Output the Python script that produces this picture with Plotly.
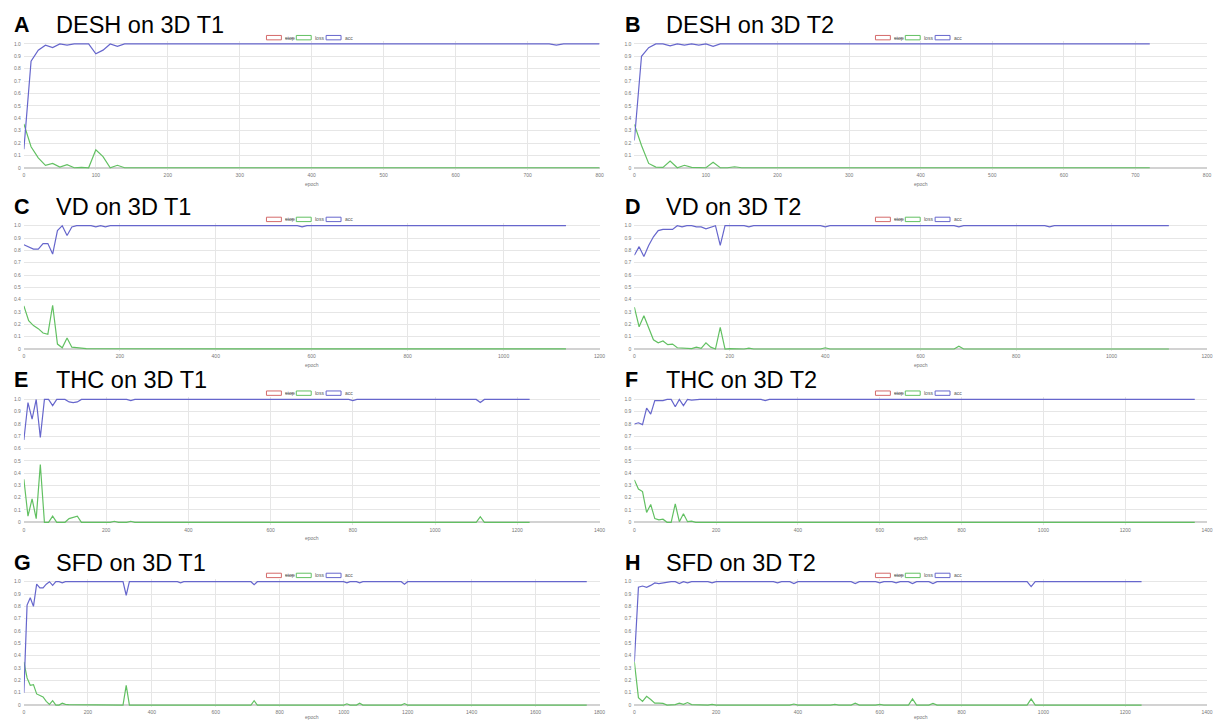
import plotly.graph_objects as go

W, H = 1220, 722

# ---------------- data ----------------
# A: DESH on 3D T1
a_epoch = [0, 10, 20, 30, 40, 50, 60, 70, 80, 90, 100, 110, 120, 130, 140, 150,
           170, 180, 190, 220, 230, 240, 730, 740, 750, 800]
a_acc = [0.15, 0.86, 0.95, 0.99, 0.97, 1.0, 0.99, 1.0, 1.0, 1.0, 0.92, 0.95, 1.0, 0.98, 1.0, 1.0,
         1.0, 1.0, 1.0, 1.0, 1.0, 1.0, 1.0, 0.99, 1.0, 1.0]
a_loss = [0.355, 0.17, 0.08, 0.02, 0.035, 0.005, 0.025, 0.0, 0.003, 0.0, 0.145, 0.09, 0.0, 0.02, 0.0, 0.0,
          0.0, 0.006, 0.0, 0.0, 0.005, 0.0, 0.0, 0.006, 0.0, 0.0]

# B: DESH on 3D T2
b_epoch = [0, 10, 20, 30, 40, 50, 60, 70, 80, 90, 100, 110, 120, 130, 140, 150, 720]
b_acc = [0.22, 0.9, 0.97, 1.0, 1.0, 0.985, 1.0, 0.99, 1.0, 0.99, 1.0, 0.98, 1.0, 1.0, 1.0, 1.0, 1.0]
b_loss = [0.35, 0.18, 0.035, 0.005, 0.003, 0.055, 0.0, 0.02, 0.003, 0.0, 0.0, 0.045, 0.0, 0.0, 0.008, 0.0, 0.0]

# C: VD on 3D T1
c_epoch = [0, 10, 20, 30, 40, 50, 60, 70, 80, 90, 100, 110, 120, 130, 140, 150, 160, 170, 180, 190, 200,
           360, 370, 380, 440, 450, 460, 570, 580, 590, 780, 790, 800, 1130]
c_acc = [0.845, 0.83, 0.81, 0.81, 0.855, 0.855, 0.77, 0.96, 1.0, 0.92, 0.99, 1.0, 1.0, 1.0, 1.0, 0.99, 1.0, 0.99, 1.0, 1.0, 1.0,
         1.0, 1.0, 1.0, 1.0, 1.0, 1.0, 1.0, 0.99, 1.0, 1.0, 1.0, 1.0, 1.0]
c_loss = [0.35, 0.23, 0.19, 0.165, 0.13, 0.12, 0.355, 0.04, 0.01, 0.09, 0.015, 0.01, 0.005, 0.003, 0.002, 0.002, 0.002, 0.004, 0.002, 0.002, 0.002,
          0.001, 0.005, 0.001, 0.001, 0.005, 0.001, 0.001, 0.004, 0.001, 0.001, 0.004, 0.001, 0.001]

# D: VD on 3D T2
d_epoch = [0, 10, 20, 30, 40, 50, 60, 70, 80, 90, 100, 110, 120, 130, 140, 150, 160, 170, 180, 190, 200,
           230, 240, 250, 340, 350, 360, 390, 400, 410, 670, 680, 690, 860, 870, 880, 1120]
d_acc = [0.76, 0.83, 0.75, 0.84, 0.91, 0.96, 0.97, 0.97, 0.97, 1.0, 0.99, 1.0, 1.0, 0.99, 0.99, 0.975, 0.99, 1.0, 0.84, 1.0, 1.0,
         1.0, 0.99, 1.0, 1.0, 1.0, 1.0, 1.0, 0.99, 1.0, 1.0, 0.99, 1.0, 1.0, 0.99, 1.0, 1.0]
d_loss = [0.34, 0.18, 0.27, 0.17, 0.075, 0.05, 0.065, 0.035, 0.04, 0.01, 0.008, 0.0, 0.003, 0.015, 0.005, 0.05, 0.015, 0.0, 0.175, 0.0, 0.003,
          0.0, 0.007, 0.0, 0.0, 0.005, 0.0, 0.0, 0.01, 0.0, 0.0, 0.022, 0.0, 0.0, 0.006, 0.0, 0.0]

# E: THC on 3D T1
e_epoch = [0, 10, 20, 30, 40, 50, 60, 70, 80, 90, 100, 110, 120, 130, 140, 150,
           210, 220, 230, 250, 260, 270, 660, 670, 680, 790, 800, 810, 1100, 1110, 1120, 1230]
e_acc = [0.67, 0.975, 0.84, 1.0, 0.69, 1.0, 1.0, 0.95, 1.0, 1.0, 1.0, 0.98, 0.975, 0.98, 1.0, 1.0,
         1.0, 1.0, 1.0, 1.0, 0.99, 1.0, 1.0, 1.0, 1.0, 1.0, 0.99, 1.0, 1.0, 0.975, 1.0, 1.0]
e_loss = [0.35, 0.05, 0.19, 0.03, 0.47, 0.0, 0.0, 0.05, 0.0, 0.0, 0.0, 0.03, 0.04, 0.05, 0.0, 0.0,
          0.0, 0.008, 0.0, 0.0, 0.008, 0.0, 0.0, 0.005, 0.0, 0.0, 0.004, 0.0, 0.0, 0.045, 0.0, 0.0]

# F: THC on 3D T2
f_epoch = [0, 10, 20, 30, 40, 50, 60, 70, 80, 90, 100, 110, 120, 130, 140, 150, 160,
           310, 320, 330, 600, 610, 620, 1370]
f_acc = [0.8, 0.81, 0.795, 0.93, 0.88, 0.99, 0.99, 0.99, 1.0, 1.0, 0.94, 1.0, 0.95, 1.0, 0.995, 1.0, 1.0,
         1.0, 0.99, 1.0, 1.0, 1.0, 1.0, 1.0]
f_loss = [0.345, 0.27, 0.25, 0.08, 0.145, 0.03, 0.02, 0.025, 0.0, 0.0, 0.15, 0.005, 0.07, 0.005, 0.01, 0.0, 0.0,
          0.0, 0.004, 0.0, 0.0, 0.002, 0.0, 0.0]

# G: SFD on 3D T1
g_epoch = [0, 10, 20, 30, 40, 50, 60, 70, 80, 90, 100, 110, 120, 130, 140,
           310, 320, 330, 480, 490, 500, 710, 720, 730, 1000, 1010, 1020, 1040, 1050, 1060,
           1180, 1190, 1200, 1760]
g_acc = [0.1, 0.81, 0.87, 0.8, 0.98, 0.95, 0.95, 0.98, 1.0, 0.97, 1.0, 1.0, 0.99, 1.0, 1.0,
         1.0, 0.89, 1.0, 1.0, 0.99, 1.0, 1.0, 0.975, 1.0, 1.0, 0.99, 1.0, 1.0, 0.99, 1.0,
         1.0, 0.98, 1.0, 1.0]
g_loss = [0.35, 0.22, 0.16, 0.165, 0.09, 0.08, 0.065, 0.03, 0.005, 0.035, 0.0, 0.0, 0.015, 0.005, 0.003,
          0.0, 0.16, 0.0, 0.0, 0.004, 0.0, 0.0, 0.035, 0.0, 0.0, 0.01, 0.0, 0.0, 0.015, 0.0,
          0.0, 0.012, 0.0, 0.0]

# H: SFD on 3D T2
h_epoch = [0, 10, 20, 30, 40, 50, 60, 70, 80, 90, 100, 110, 120, 130, 140,
           180, 190, 200, 290, 300, 310, 340, 350, 360, 380, 390, 400, 480, 490, 500,
           530, 540, 550, 590, 600, 610, 630, 640, 650, 670, 680, 690, 720, 730, 740,
           960, 970, 980, 1240]
h_acc = [0.35, 0.955, 0.965, 0.955, 0.97, 0.99, 0.985, 0.99, 1.0, 1.0, 1.0, 0.985, 1.0, 0.99, 1.0,
         1.0, 0.99, 1.0, 1.0, 1.0, 1.0, 1.0, 0.99, 1.0, 1.0, 0.985, 1.0, 1.0, 1.0, 1.0,
         1.0, 0.985, 1.0, 1.0, 0.99, 1.0, 1.0, 0.99, 1.0, 1.0, 0.985, 1.0, 1.0, 0.985, 1.0,
         1.0, 0.96, 1.0, 1.0]
h_loss = [0.35, 0.06, 0.03, 0.07, 0.045, 0.015, 0.015, 0.013, 0.0, 0.0, 0.003, 0.015, 0.005, 0.02, 0.003,
          0.0, 0.005, 0.0, 0.0, 0.003, 0.0, 0.0, 0.003, 0.0, 0.0, 0.008, 0.0, 0.0, 0.005, 0.0,
          0.0, 0.015, 0.0, 0.0, 0.005, 0.0, 0.0, 0.005, 0.0, 0.0, 0.05, 0.0, 0.0, 0.013, 0.0,
          0.0, 0.05, 0.0, 0.0]

panel_letters = ["A", "B", "C", "D", "E", "F", "G", "H"]
panel_titles = ["DESH on 3D T1", "DESH on 3D T2", "VD on 3D T1", "VD on 3D T2",
                "THC on 3D T1", "THC on 3D T2", "SFD on 3D T1", "SFD on 3D T2"]
x_max = [800, 800, 1200, 1200, 1400, 1400, 1800, 1400]
x_dtick = [100, 100, 200, 200, 200, 200, 200, 200]
y_tickvals = [0, 0.1, 0.2, 0.3, 0.4, 0.5, 0.6, 0.7, 0.8, 0.9, 1.0]
y_ticktext = ["0", "0.1", "0.2", "0.3", "0.4", "0.5", "0.6", "0.7", "0.8", "0.9", "1.0"]
legend_names = ["stop", "loss", "acc"]
x_title = "epoch"

epochs = [a_epoch, b_epoch, c_epoch, d_epoch, e_epoch, f_epoch, g_epoch, h_epoch]
accs = [a_acc, b_acc, c_acc, d_acc, e_acc, f_acc, g_acc, h_acc]
losses = [a_loss, b_loss, c_loss, d_loss, e_loss, f_loss, g_loss, h_loss]

# ---------------- styling / layout ----------------
RED = "#d46a6a"
GREEN = "#62c062"
BLUE = "#6666cc"
GRID = "#e6e6e6"
TICK = "#777777"
FONT = "Liberation Sans, Arial, sans-serif"

col_px = [(23, 602), (637, 1213)]
row_px = [(43, 167), (225, 348.5), (399, 522), (581.5, 705)]
PAD = 0.02


def px_x(p):
    return p / W


def px_y(p):
    return 1 - p / H


fig = go.Figure()
layout = dict(width=W, height=H, margin=dict(l=0, r=0, t=0, b=0), autosize=False,
              paper_bgcolor="white", plot_bgcolor="white", showlegend=False,
              font=dict(family=FONT, size=5, color=TICK))
annotations = []
shapes = []

for i in range(8):
    r, c = divmod(i, 2)
    s = "" if i == 0 else str(i + 1)
    x0p, x1p = col_px[c]
    p1, p0 = row_px[r]
    span = p0 - p1
    top = p1 - PAD * span
    bot = p0 + PAD * span

    layout["xaxis" + s] = dict(domain=[px_x(x0p), px_x(x1p)], range=[0, x_max[i]],
                               anchor="y" + s, tickmode="linear", tick0=0, dtick=x_dtick[i],
                               showgrid=True, gridcolor=GRID, gridwidth=1, zeroline=False,
                               showline=False, ticks="", ticklabelstandoff=1,
                               tickfont=dict(size=5, color=TICK, family=FONT))
    layout["yaxis" + s] = dict(domain=[px_y(bot), px_y(top)], range=[-PAD, 1 + PAD],
                               anchor="x" + s, tickmode="array", tickvals=y_tickvals,
                               ticktext=y_ticktext, showgrid=True, gridcolor=GRID, gridwidth=1,
                               zeroline=True, zerolinecolor="#d2d2d2", zerolinewidth=1.6,
                               showline=False, ticks="", ticklabelstandoff=2,
                               tickfont=dict(size=5, color=TICK, family=FONT))

    fig.add_trace(go.Scatter(x=epochs[i], y=losses[i], mode="lines", name=legend_names[1],
                             line=dict(color=GREEN, width=1.2), xaxis="x" + s, yaxis="y" + s,
                             hoverinfo="skip"))
    fig.add_trace(go.Scatter(x=epochs[i], y=accs[i], mode="lines", name=legend_names[2],
                             line=dict(color=BLUE, width=1.2), xaxis="x" + s, yaxis="y" + s,
                             hoverinfo="skip"))

    # x axis title
    cx = (x0p + x1p) / 2
    ey = min(p0 + 16, H - 5)
    annotations.append(dict(text=x_title, x=px_x(cx), y=px_y(ey), xref="paper", yref="paper",
                            showarrow=False, xanchor="center", yanchor="middle",
                            font=dict(size=5, color=TICK, family=FONT)))
    # panel title
    lx = 11 if c == 0 else 626
    tx = 53 if c == 0 else 667
    ty = p1 - 19
    annotations.append(dict(text="<b>" + panel_letters[i] + "</b>", x=px_x(lx), y=px_y(ty),
                            xref="paper", yref="paper", showarrow=False, xanchor="left",
                            yanchor="middle", font=dict(size=21.5, color="black", family=FONT)))
    annotations.append(dict(text=panel_titles[i], x=px_x(tx), y=px_y(ty),
                            xref="paper", yref="paper", showarrow=False, xanchor="left",
                            yanchor="middle", font=dict(size=23.5, color="black", family=FONT)))
    # legend (echarts-like rectangle icons)
    ly = p1 - 6.3
    items = [(-45.5, RED, "<s>" + legend_names[0] + "</s>"),
             (-15.5, GREEN, legend_names[1]),
             (14.5, BLUE, legend_names[2])]
    for off, col, txt in items:
        shapes.append(dict(type="rect", xref="paper", yref="paper",
                           x0=px_x(cx + off), x1=px_x(cx + off + 15),
                           y0=px_y(ly + 2.2), y1=px_y(ly - 2.2),
                           line=dict(color=col, width=1), fillcolor="rgba(0,0,0,0)"))
        annotations.append(dict(text=txt, x=px_x(cx + off + 17), y=px_y(ly), xref="paper",
                                yref="paper", showarrow=False, xanchor="left", yanchor="middle",
                                font=dict(size=5, color="#555555", family=FONT)))

layout["annotations"] = annotations
layout["shapes"] = shapes
fig.update_layout(**layout)
fig.write_html("out.html", config={"displayModeBar": False},
               post_script="document.body.style.margin='0';document.body.style.padding='0';"
                           "document.body.style.overflow='hidden';")
